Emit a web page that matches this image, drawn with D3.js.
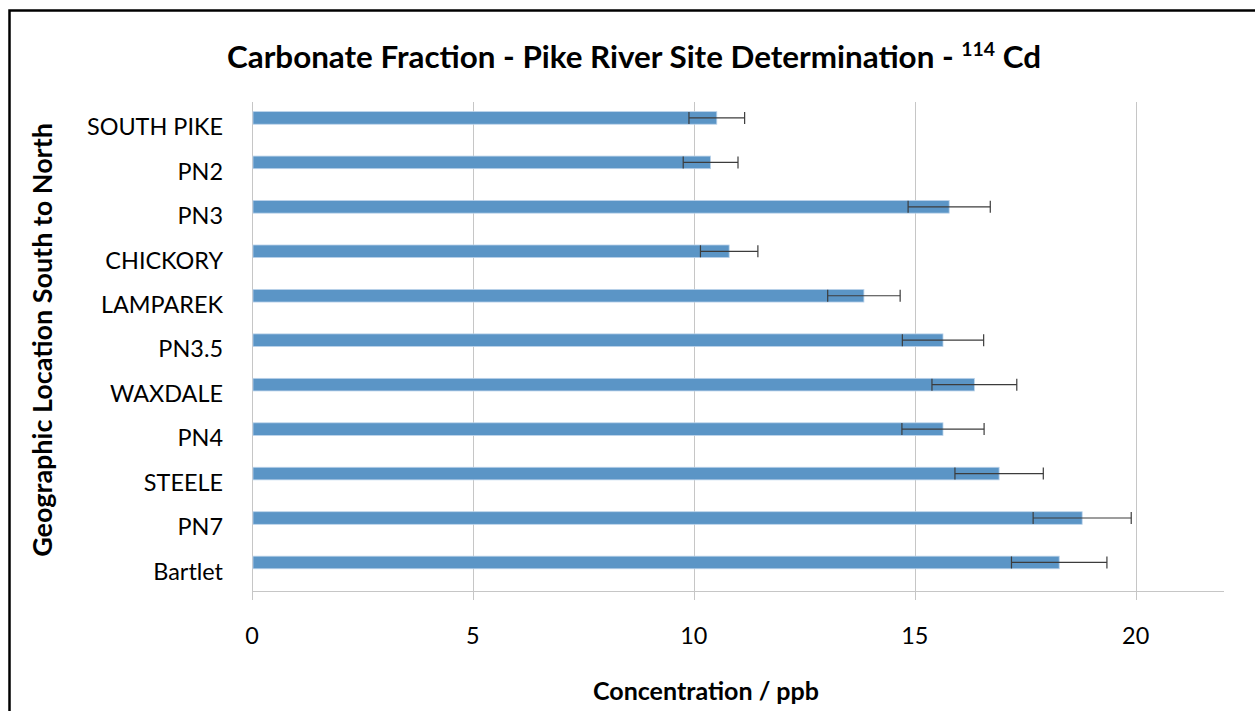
<!DOCTYPE html>
<html>
<head>
<meta charset="utf-8">
<script src="https://cdn.jsdelivr.net/npm/d3@7"></script>
<style>
  html, body { margin: 0; padding: 0; background: #fff; }
  svg { display: block; }
  text { font-family: Lato, "Open Sans", sans-serif; fill: #000; }
</style>
</head>
<body>
<svg id="chart" width="1255" height="711"></svg>
<script>
const categories = ["SOUTH PIKE", "PN2", "PN3", "CHICKORY", "LAMPAREK", "PN3.5", "WAXDALE", "PN4", "STEELE", "PN7", "Bartlet"];
const values = [10.52, 10.38, 15.78, 10.80, 13.85, 15.64, 16.35, 15.64, 16.91, 18.79, 18.27];
const errors = [0.63, 0.62, 0.93, 0.65, 0.82, 0.92, 0.96, 0.93, 1.00, 1.11, 1.08];
const xTicks = [0, 5, 10, 15, 20];
const titleMain = "Carbonate Fraction - Pike River Site Determination - ";
const titleSup = "114";
const titleEnd = " Cd";
const xTitle = "Concentration / ppb";
const yTitle = "Geographic Location South to North";

const svg = d3.select("#chart");
const plot = { left: 252, right: 1224, top: 102, bottom: 591 };

const x = d3.scaleLinear().domain([0, 22]).range([plot.left, plot.right]);
const y = d3.scaleBand().domain(categories).range([plot.top, plot.bottom]).paddingInner(0).paddingOuter(0);
const barH = 12.6;

// fit a text element's font size so its rendered width matches a target
function fitWidth(sel, target) {
  const node = sel.node();
  let fs = parseFloat(sel.attr("font-size"));
  for (let k = 0; k < 3; k++) {
    const w = node.getBBox().width;
    if (!w) break;
    fs = fs * target / w;
    sel.attr("font-size", fs);
    sel.selectAll("tspan.sup").attr("font-size", fs * 0.62);
  }
  return fs;
}

// outer border
svg.append("rect").attr("x", 9.5).attr("y", 10.5).attr("width", 1260).attr("height", 720)
  .attr("fill", "none").attr("stroke", "#000").attr("stroke-width", 2.5);

// gridlines (extend below as tick marks)
svg.append("g").selectAll("line").data(xTicks.filter(d => d > 0)).join("line")
  .attr("x1", d => Math.round(x(d)) + 0.5).attr("x2", d => Math.round(x(d)) + 0.5)
  .attr("y1", plot.top).attr("y2", plot.bottom + 9)
  .attr("stroke", "#c6c6c6").attr("stroke-width", 1);

// axes lines
svg.append("line").attr("x1", plot.left + 0.5).attr("x2", plot.left + 0.5)
  .attr("y1", plot.top).attr("y2", plot.bottom + 9)
  .attr("stroke", "#c6c6c6").attr("stroke-width", 1);
svg.append("line").attr("x1", plot.left).attr("x2", plot.right)
  .attr("y1", plot.bottom + 0.5).attr("y2", plot.bottom + 0.5)
  .attr("stroke", "#c6c6c6").attr("stroke-width", 1);

// bars
const rows = categories.map((c, i) => ({ c, v: values[i], e: errors[i] }));
const bandC = d => y(d.c) + y.bandwidth() / 2;

svg.append("g").selectAll("rect").data(rows).join("rect")
  .attr("x", x(0) + 1)
  .attr("y", d => bandC(d) - barH)
  .attr("width", d => x(d.v) - x(0) - 1)
  .attr("height", barH)
  .attr("fill", "#5b95c6")
  .attr("stroke", "#bcd3ea").attr("stroke-width", 0.8);

// error bars
const eg = svg.append("g").attr("stroke", "#3c3c3c").attr("stroke-width", 1.2);
rows.forEach(d => {
  const cy = bandC(d) - barH / 2;
  eg.append("line").attr("x1", x(d.v - d.e)).attr("x2", x(d.v + d.e)).attr("y1", cy).attr("y2", cy);
  eg.append("line").attr("x1", x(d.v - d.e)).attr("x2", x(d.v - d.e)).attr("y1", cy - 6).attr("y2", cy + 6);
  eg.append("line").attr("x1", x(d.v + d.e)).attr("x2", x(d.v + d.e)).attr("y1", cy - 6).attr("y2", cy + 6);
});

// category labels
const catLabels = svg.append("g").selectAll("text").data(categories).join("text")
  .attr("x", 223).attr("y", d => y(d) + y.bandwidth() / 2 + 5)
  .attr("text-anchor", "end").attr("dominant-baseline", "middle")
  .attr("font-size", 22).text(d => d);
const catFs = fitWidth(catLabels.filter((d, i) => i === 0), 136);
catLabels.attr("font-size", catFs);

// x tick labels
svg.append("g").selectAll("text").data(xTicks).join("text")
  .attr("x", d => x(d)).attr("y", 638)
  .attr("text-anchor", "middle").attr("dominant-baseline", "middle")
  .attr("font-size", catFs).text(d => d);

// axis titles
const xt = svg.append("text").attr("x", 706).attr("y", 694)
  .attr("text-anchor", "middle").attr("dominant-baseline", "middle")
  .attr("font-size", 22).attr("font-weight", "bold").text(xTitle);
fitWidth(xt, 226);

const yt = svg.append("text").attr("transform", "translate(45,340) rotate(-90)")
  .attr("text-anchor", "middle").attr("dominant-baseline", "middle")
  .attr("font-size", 22).attr("font-weight", "bold").text(yTitle);
fitWidth(yt, 434);

// title
const t = svg.append("text").attr("x", 634).attr("y", 60)
  .attr("text-anchor", "middle").attr("dominant-baseline", "middle")
  .attr("font-size", 27).attr("font-weight", "bold");
t.append("tspan").text(titleMain);
t.append("tspan").attr("class", "sup").attr("font-size", 17).attr("dy", -9).text(titleSup);
t.append("tspan").attr("dy", 9).text(titleEnd);
fitWidth(t, 814);
</script>
</body>
</html>
